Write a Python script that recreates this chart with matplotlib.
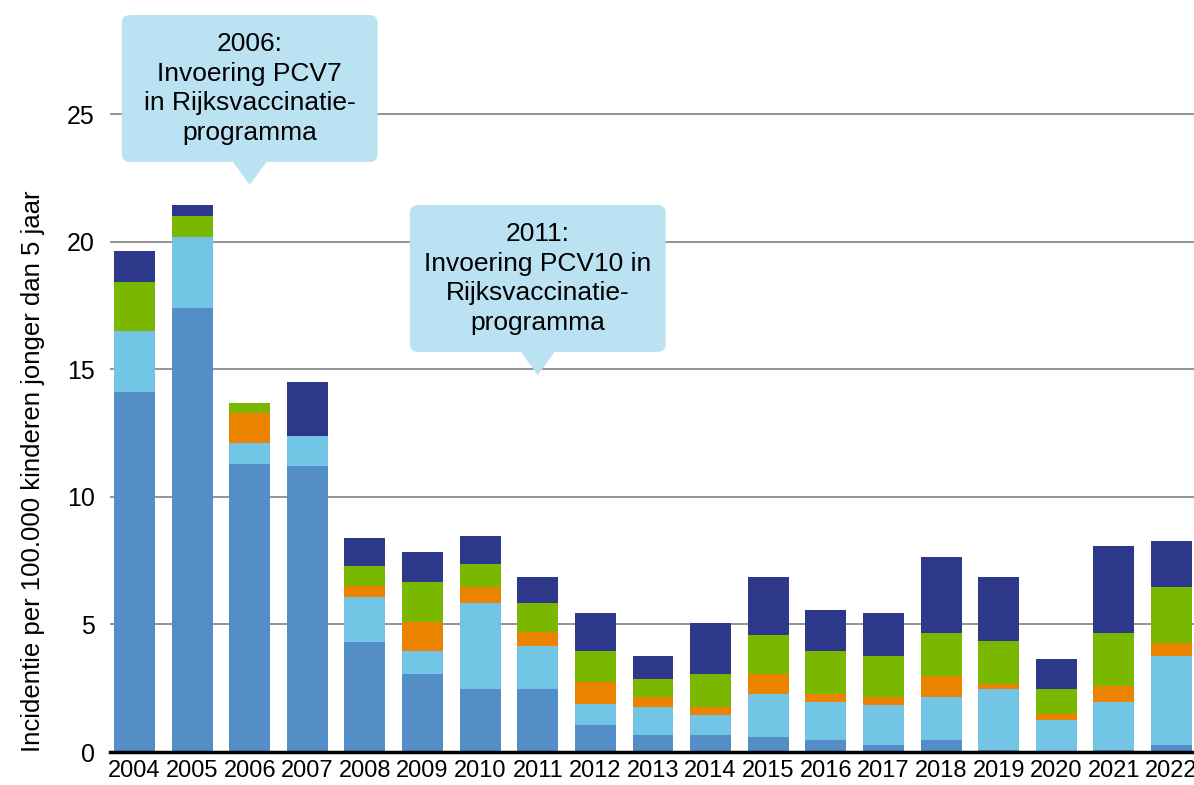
import numpy as np
import matplotlib.pyplot as plt
from matplotlib.patches import FancyBboxPatch, Polygon

plt.rcParams['font.family'] = ['Liberation Sans', 'DejaVu Sans']

# Data (incidence per 100.000 children < 5 yr)
years = [str(y) for y in range(2004, 2023)]
seg_base   = [14.1, 17.4, 11.3, 11.2, 4.3, 3.06, 2.47, 2.47, 1.06, 0.67, 0.67, 0.59, 0.47, 0.27, 0.47, 0.08, 0.0, 0.08, 0.27]
seg_light  = [2.4, 2.8, 0.8, 1.2, 1.77, 0.92, 3.39, 1.69, 0.82, 1.1, 0.78, 1.69, 1.49, 1.58, 1.69, 2.39, 1.26, 1.88, 3.5]
seg_orange = [0.0, 0.0, 1.2, 0.0, 0.43, 1.1, 0.63, 0.53, 0.87, 0.4, 0.33, 0.78, 0.32, 0.32, 0.82, 0.2, 0.23, 0.63, 0.52]
seg_green  = [1.95, 0.8, 0.4, 0.0, 0.78, 1.6, 0.89, 1.16, 1.22, 0.7, 1.28, 1.53, 1.69, 1.6, 1.69, 1.69, 0.98, 2.08, 2.19]
seg_navy   = [1.2, 0.45, 0.0, 2.1, 1.1, 1.17, 1.1, 1.02, 1.49, 0.9, 2.01, 2.28, 1.61, 1.69, 2.99, 2.51, 1.18, 3.42, 1.81]

series = [seg_base, seg_light, seg_orange, seg_green, seg_navy]
colors = ['#538ec6', '#72c5e5', '#e98300', '#7ab800', '#2e388b']

callouts = [
    (2, '2006:\nInvoering PCV7\nin Rijksvaccinatie-\nprogramma', 23.14, 28.9, 22.24),
    (7, '2011:\nInvoering PCV10 in\nRijksvaccinatie-\nprogramma', 15.69, 21.45, 14.78),
]

fig = plt.figure(figsize=(11.94, 7.85), dpi=100)
ax = fig.add_axes([110 / 1194, 33 / 785, 1 - 110 / 1194, 752 / 785])

x = np.arange(len(years))
bottom = np.zeros(len(years))
for vals, c in zip(series, colors):
    ax.bar(x, vals, bottom=bottom, width=0.71, color=c, zorder=3)
    bottom += np.array(vals)

ax.set_xlim(-0.425, 18.39)
ax.set_ylim(0, 29.49)
ax.set_yticks([0, 5, 10, 15, 20, 25])
ax.set_xticks(x)
ax.set_xticklabels(years)
ax.tick_params(axis='x', length=0, labelsize=17, pad=6)
ax.tick_params(axis='y', length=0, labelsize=18, pad=11)
ax.yaxis.grid(True, color='#8c8c8c', linewidth=1.3, zorder=0)
ax.set_axisbelow(True)
for s in ['left', 'right', 'top']:
    ax.spines[s].set_visible(False)
ax.spines['bottom'].set_linewidth(2.5)
ax.spines['bottom'].set_color('black')
ax.spines['bottom'].set_zorder(4)

fig.text(33 / 1194, 1 - 471 / 785, 'Incidentie per 100.000 kinderen jonger dan 5 jaar',
         rotation=90, ha='center', va='center', fontsize=18.5)

box_col = '#bae2f2'
for xc, txt, y0, y1, ytip in callouts:
    hw = 2.22
    box = FancyBboxPatch((xc - hw, y0), 2 * hw, y1 - y0,
                         boxstyle='round,pad=0,rounding_size=0.14',
                         mutation_aspect=2.26, facecolor=box_col,
                         edgecolor='none', zorder=5, clip_on=False)
    ax.add_patch(box)
    tri = Polygon([[xc - 0.31, y0 + 0.05], [xc + 0.31, y0 + 0.05], [xc, ytip]],
                  closed=True, facecolor=box_col, edgecolor='none', zorder=5, clip_on=False)
    ax.add_patch(tri)
    ax.text(xc, (y0 + y1) / 2, txt, ha='center', va='center', fontsize=19,
            linespacing=1.3, zorder=6)

fig.savefig('out.png', dpi=100)
